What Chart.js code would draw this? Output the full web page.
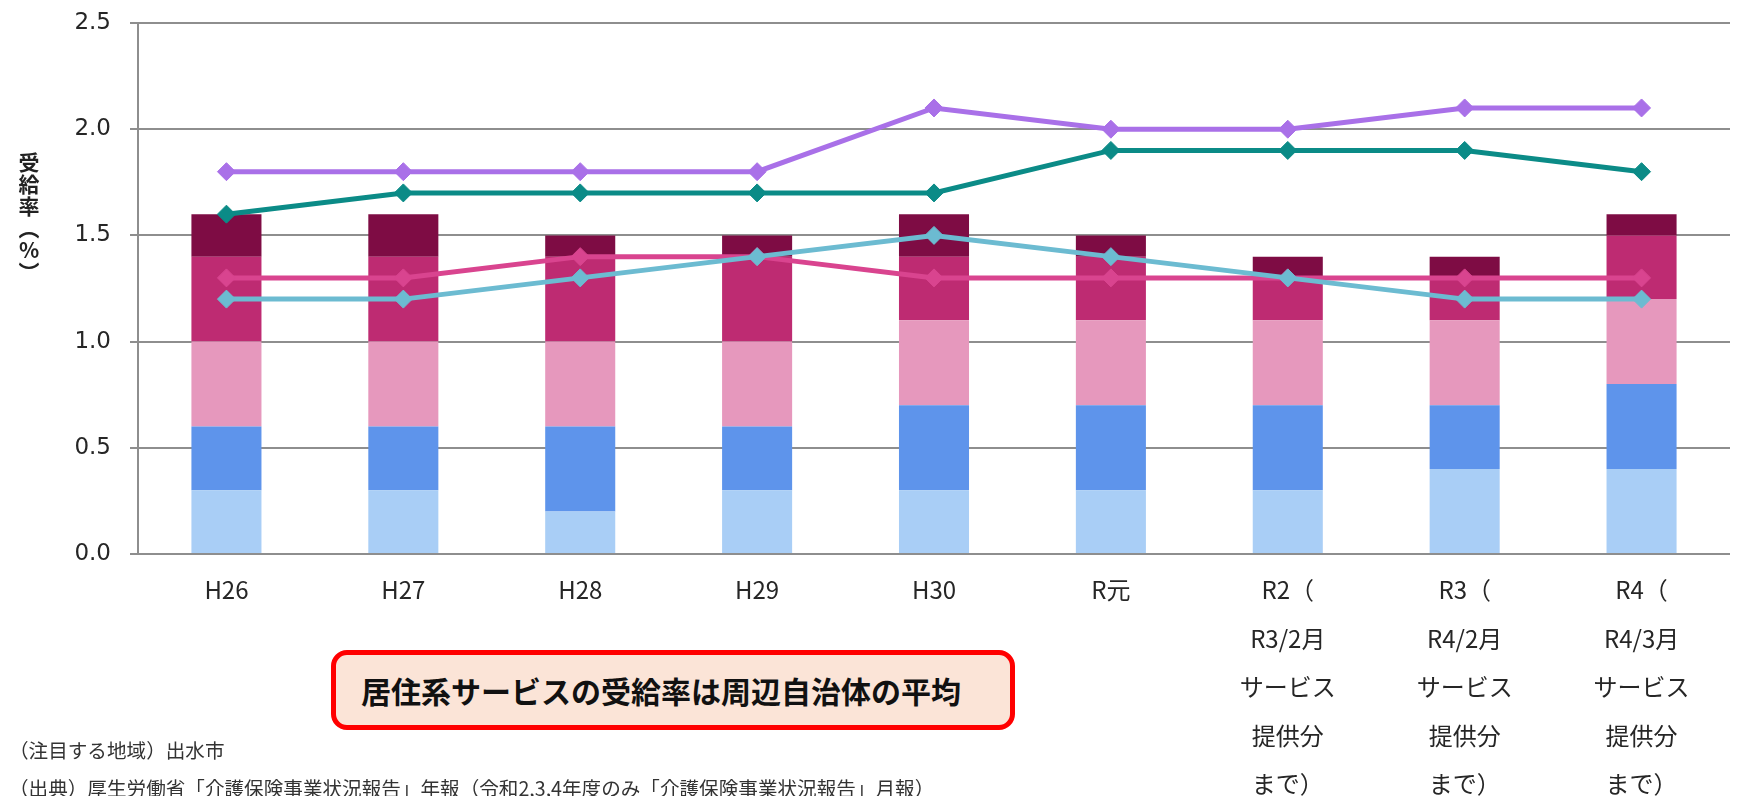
<!DOCTYPE html>
<html lang="ja">
<head>
<meta charset="utf-8">
<script src="https://cdn.jsdelivr.net/npm/chart.js@4"></script>
<style>
  body { margin: 0; background: #fff; }
  #wrap { position: relative; width: 1740px; height: 796px; overflow: hidden; }
  #yTitle {
    position: absolute; left: 17px; top: 150px; width: 24px;
    font: bold 21px "Noto Sans CJK JP", sans-serif; color: #222;
    line-height: 22px; text-align: center;
  }
  #callout {
    position: absolute; left: 331px; top: 650px; width: 649px; height: 70px;
    border: 5px solid #ff0000; border-radius: 16px; background: #fbe4d7;
    font: bold 30px "Noto Sans CJK JP", sans-serif; color: #111;
    line-height: 70px; padding-left: 25px; box-sizing: content-box;
  }
  .note {
    position: absolute; left: 9px;
    font: 19.6px "Noto Sans CJK JP", sans-serif; color: #333; white-space: nowrap;
  }
</style>
</head>
<body>
<div id="wrap">
  <canvas id="chart" width="1740" height="796"></canvas>
  <div id="yTitle">受<br>給<br>率<br>︵<br>%<br>︶</div>
  <div id="callout">居住系サービスの受給率は周辺自治体の平均</div>
  <div class="note" style="top:735px">（注目する地域）出水市</div>
  <div class="note" style="top:773px">（出典）厚生労働省「介護保険事業状況報告」年報（令和2,3,4年度のみ「介護保険事業状況報告」月報）</div>
</div>
<script>
// カテゴリ（年度）
const categories = [
    'H26', 'H27', 'H28', 'H29', 'H30', 'R元',
    ['R2（', 'R3/2月', 'サービス', '提供分', 'まで）'],
    ['R3（', 'R4/2月', 'サービス', '提供分', 'まで）'],
    ['R4（', 'R4/3月', 'サービス', '提供分', 'まで）']
];

// 積み上げ棒（下から順）
const bar1 = [0.3, 0.3, 0.2, 0.3, 0.3, 0.3, 0.3, 0.4, 0.4];
const bar2 = [0.3, 0.3, 0.4, 0.3, 0.4, 0.4, 0.4, 0.3, 0.4];
const bar3 = [0.4, 0.4, 0.4, 0.4, 0.4, 0.4, 0.4, 0.4, 0.4];
const bar4 = [0.4, 0.4, 0.4, 0.4, 0.3, 0.3, 0.2, 0.2, 0.3];
const bar5 = [0.2, 0.2, 0.1, 0.1, 0.2, 0.1, 0.1, 0.1, 0.1];

// 折れ線（周辺自治体）
const linePurple = [1.8, 1.8, 1.8, 1.8, 2.1, 2.0, 2.0, 2.1, 2.1];
const lineTeal   = [1.6, 1.7, 1.7, 1.7, 1.7, 1.9, 1.9, 1.9, 1.8];
const linePink   = [1.3, 1.3, 1.4, 1.4, 1.3, 1.3, 1.3, 1.3, 1.3];
const lineBlue   = [1.2, 1.2, 1.3, 1.4, 1.5, 1.4, 1.3, 1.2, 1.2];

// 目盛り
const yTicks = [0, 0.5, 1.0, 1.5, 2.0, 2.5];

const GRID = '#8e8e8e';

function barSet(label, data, color) {
    return { type: 'bar', label: label, data: data, backgroundColor: color,
             stack: 'bars', order: 10, barPercentage: 0.396, categoryPercentage: 1 };
}
function lineSet(label, data, color, order) {
    return { type: 'line', label: label, data: data, borderColor: color, backgroundColor: color,
             borderWidth: 5, pointStyle: 'rectRot', pointRadius: 9, pointBorderWidth: 1,
             pointBackgroundColor: color, pointBorderColor: color,
             tension: 0, fill: false, stack: 'line' + order, order: order };
}

const ctx = document.getElementById('chart');
new Chart(ctx, {
    data: {
        labels: categories,
        datasets: [
            barSet('系列1', bar1, '#a9cef6'),
            barSet('系列2', bar2, '#5e94eb'),
            barSet('系列3', bar3, '#e698bd'),
            barSet('系列4', bar4, '#be2b72'),
            barSet('系列5', bar5, '#7e0c44'),
            lineSet('自治体A', linePurple, '#a970e8', 1),
            lineSet('自治体B', lineTeal, '#0b8b87', 2),
            lineSet('自治体C', linePink, '#d9448f', 4),
            lineSet('自治体D', lineBlue, '#6cbbd1', 3)
        ]
    },
    options: {
        responsive: false,
        animation: false,
        layout: { padding: { top: 23, left: 0, right: 0, bottom: 0 } },
        plugins: { legend: { display: false }, tooltip: { enabled: false } },
        scales: {
            x: {
                stacked: true,
                grid: { display: false, drawTicks: false },
                border: { display: false },
                ticks: {
                    padding: 12, maxRotation: 0, autoSkip: false, color: '#262626',
                    font: { family: '"Noto Sans CJK JP", sans-serif', size: 24, lineHeight: 2.02 }
                },
                afterFit: function (scale) {
                    scale.height = 242;
                    scale.paddingLeft = 0; scale.paddingRight = 0;
                }
            },
            y: {
                stacked: true,
                min: yTicks[0],
                max: yTicks[yTicks.length - 1],
                afterBuildTicks: function (scale) {
                    scale.ticks = yTicks.map(v => ({ value: v }));
                },
                grid: { color: GRID, lineWidth: 2, tickLength: 8, drawTicks: true },
                border: { display: true, color: GRID, width: 2 },
                ticks: {
                    padding: 19, color: '#262626',
                    font: { family: '"DejaVu Sans", sans-serif', size: 23 },
                    callback: function (v) { return Number(v).toFixed(1); }
                },
                afterFit: function (scale) {
                    scale.width = 138;
                    scale.paddingTop = 0; scale.paddingBottom = 0;
                }
            }
        }
    }
});
</script>
</body>
</html>
